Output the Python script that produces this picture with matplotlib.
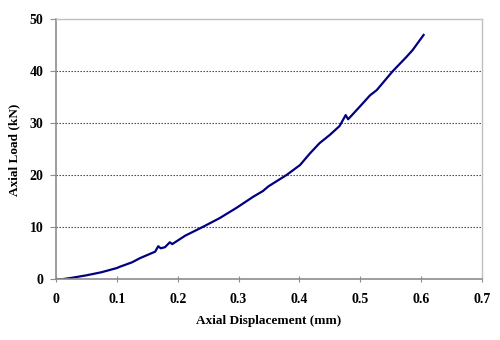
import matplotlib
matplotlib.use("Agg")
import matplotlib.pyplot as plt

disp = [0.0, 0.01, 0.025, 0.05, 0.075, 0.1, 0.105, 0.125, 0.138, 0.15, 0.163, 0.168, 0.172, 0.179,
        0.187, 0.191, 0.212, 0.242, 0.269, 0.297, 0.324, 0.340, 0.349, 0.379, 0.401, 0.417,
        0.433, 0.45, 0.466, 0.476, 0.48, 0.499, 0.516, 0.527, 0.553, 0.576, 0.586, 0.604]
load = [0.0, 0.05, 0.3, 0.8, 1.4, 2.2, 2.45, 3.3, 4.1, 4.7, 5.35, 6.4, 6.0, 6.2,
        7.15, 6.8, 8.4, 10.15, 11.8, 13.8, 15.9, 17.0, 17.9, 20.1, 22.0, 24.2,
        26.2, 27.8, 29.5, 31.6, 30.8, 33.2, 35.4, 36.4, 40.0, 42.8, 44.1, 47.0]

xticks = [0, 0.1, 0.2, 0.3, 0.4, 0.5, 0.6, 0.7]
xticklabels = ["0", "0.1", "0.2", "0.3", "0.4", "0.5", "0.6", "0.7"]
yticks = [0, 10, 20, 30, 40, 50]

plt.rcParams['font.family'] = ['Liberation Serif', 'DejaVu Serif']

fig = plt.figure(figsize=(5, 3.4), dpi=100)
ax = fig.add_axes([0.112, 0.178, 0.852, 0.765])

ax.plot(disp, load, color='#000080', lw=1.6, solid_joinstyle='round')

ax.set_xlim(0, 0.7)
ax.set_ylim(0, 50)
ax.set_xticks(xticks)
ax.set_xticklabels(xticklabels)
ax.set_yticks(yticks)
for y in yticks[1:-1]:
    ax.axhline(y, color='#333333', lw=0.8, ls=(0, (1.2, 1.5)), zorder=0)

for s in ['left', 'bottom']:
    ax.spines[s].set_color('#8c8c8c')
    ax.spines[s].set_linewidth(1.2)
for s in ['top', 'right']:
    ax.spines[s].set_color('#c0c0c0')
    ax.spines[s].set_linewidth(1.0)

ax.tick_params(axis='x', direction='inout', length=5, color='#8c8c8c', pad=7)
ax.tick_params(axis='y', direction='out', length=4, color='#8c8c8c', pad=5)
for lab in ax.get_xticklabels() + ax.get_yticklabels():
    lab.set_fontweight('bold')
    lab.set_fontsize(10)

ax.set_xlabel('Axial Displacement (mm)', fontsize=9.5, fontweight='bold', labelpad=7)
ax.set_ylabel('Axial Load (kN)', fontsize=9.5, fontweight='bold', labelpad=7)

fig.savefig('out.png', dpi=100)
